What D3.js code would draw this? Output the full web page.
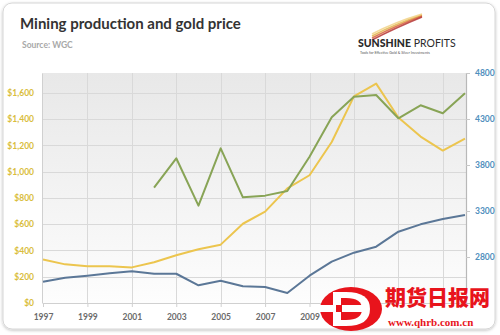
<!DOCTYPE html>
<html><head><meta charset="utf-8">
<script src="https://cdn.jsdelivr.net/npm/d3@7"></script>
<style>html,body{margin:0;padding:0;background:#fff;}svg{display:block;}</style>
</head><body>
<svg id="c" width="500" height="335"></svg>
<script>
const years = [1997,1998,1999,2000,2001,2002,2003,2004,2005,2006,2007,2008,2009,2010,2011,2012,2013,2014,2015,2016];
const goldPrice = [331,294,279,279,271,310,363,409,444,603,695,872,972,1225,1572,1669,1411,1266,1160,1251];
const mineProduction = [2532,2575,2597,2623,2645,2618,2618,2492,2542,2482,2474,2409,2597,2749,2847,2912,3075,3155,3213,3257];
const greenYears = [2002,2003,2004,2005,2006,2007,2008,2009,2010,2011,2012,2013,2014,2015,2016];
const greenSeries = [3553,3873,3358,3981,3449,3467,3517,3890,4318,4543,4561,4308,4449,4362,4579];
const leftTicks = [0,200,400,600,800,1000,1200,1400,1600];
const rightTicks = [2800,3300,3800,4300,4800];
const gridYears = [1999,2001,2003,2005,2007,2009,2011,2013,2015];
const yearLabels = [1997,1999,2001,2003,2005,2007,2009,2011];

const svg = d3.select("#c");
const defs = svg.append("defs");
const g1 = defs.append("linearGradient").attr("id","bg").attr("x1",0).attr("y1",0).attr("x2",0).attr("y2",1);
g1.append("stop").attr("offset","0%").attr("stop-color","#e8e8e8");
g1.append("stop").attr("offset","100%").attr("stop-color","#fdfdfd");
const f = defs.append("filter").attr("id","sh").attr("x","-5%").attr("y","-5%").attr("width","110%").attr("height","110%");
f.append("feDropShadow").attr("dx",0).attr("dy",1).attr("stdDeviation",1.5).attr("flood-color","#000").attr("flood-opacity",0.25);

// card
svg.append("rect").attr("x",3).attr("y",3).attr("width",492).attr("height",326).attr("rx",9)
  .attr("fill","#fff").attr("stroke","#d6d6d6").attr("stroke-width",1).attr("filter","url(#sh)");

const L=42,R=466,T=73,B=303;
const x = d3.scaleLinear().domain([1997,2016]).range([L+1,R-1]);
const yL = d3.scaleLinear().domain([0,1750]).range([B,T]);
const yR = d3.scaleLinear().domain([2300,4800]).range([B,T]);

svg.append("rect").attr("x",L).attr("y",T).attr("width",R-L).attr("height",B-T).attr("fill","url(#bg)");

// grid
const grid = svg.append("g").attr("stroke","#d9d9d9").attr("stroke-width",1);
leftTicks.slice(1).forEach(v=>grid.append("line").attr("x1",L).attr("x2",R).attr("y1",Math.round(yL(v))+0.5).attr("y2",Math.round(yL(v))+0.5));
gridYears.forEach(v=>grid.append("line").attr("y1",T).attr("y2",B).attr("x1",Math.round(x(v))+0.5).attr("x2",Math.round(x(v))+0.5));

// axes
const axL = d3.axisLeft(yL).tickValues(leftTicks).tickSize(0).tickPadding(8).tickFormat(d=>"$"+d3.format(",")(d));
const gL = svg.append("g").attr("transform",`translate(${L},0)`).call(axL);
gL.select(".domain").attr("stroke","#d0d0d0");
gL.selectAll("text").attr("fill","#d9bd3c").attr("font-family","Lato, sans-serif").attr("font-size",8.5).attr("font-weight","bold");

const axR = d3.axisRight(yR).tickValues(rightTicks).tickSize(4).tickPadding(5).tickFormat(d3.format("d"));
const gR = svg.append("g").attr("transform",`translate(${R},0)`).call(axR);
gR.select(".domain").attr("stroke","#b8b8b8").attr("stroke-width",1.2);
gR.selectAll(".tick line").attr("stroke","#c8c8c8");
gR.selectAll("text").attr("fill","#4f8fbd").attr("font-family","Lato, sans-serif").attr("font-size",8.5).attr("font-weight","bold");

const axB = d3.axisBottom(x).tickValues(yearLabels).tickSize(4).tickPadding(7).tickFormat(d3.format("d"));
const gB = svg.append("g").attr("transform",`translate(0,${B})`).call(axB);
gB.select(".domain").attr("stroke","#d0d0d0");
gB.selectAll(".tick line").attr("stroke","#d0d0d0");
gB.selectAll("text").attr("fill","#6b6b6b").attr("font-family","Lato, sans-serif").attr("font-size",8.5).attr("font-weight","bold");

// lines
const line = (ys)=>d3.line().x(d=>x(d[0])).y(d=>ys(d[1]));
svg.append("path").datum(years.map((yy,i)=>[yy,mineProduction[i]])).attr("d",line(yR))
  .attr("fill","none").attr("stroke","#5b7797").attr("stroke-width",2).attr("stroke-linejoin","round");
svg.append("path").datum(years.map((yy,i)=>[yy,goldPrice[i]])).attr("d",line(yL))
  .attr("fill","none").attr("stroke","#ecc54e").attr("stroke-width",2).attr("stroke-linejoin","round");
svg.append("path").datum(greenYears.map((yy,i)=>[yy,greenSeries[i]])).attr("d",line(yR))
  .attr("fill","none").attr("stroke","#88a456").attr("stroke-width",2).attr("stroke-linejoin","round");

// titles
svg.append("text").attr("x",20).attr("y",29).text("Mining production and gold price")
  .attr("font-family","Lato, sans-serif").attr("font-weight","bold").attr("font-size",15).attr("fill","#333");
svg.append("text").attr("x",22).attr("y",48).text("Source: WGC")
  .attr("font-family","Lato, sans-serif").attr("font-weight","bold").attr("font-size",8.5).attr("fill","#a8a8a8");

// logo
const logo = svg.append("g");
[["#e0b040",0],["#d45a30",2],["#b02828",4],["#f0d080",-2]].forEach(([c,o])=>{
  logo.append("path").attr("d",`M372,${36+o} Q395,${24+o} 422,${15+o/2}`).attr("fill","none").attr("stroke",c).attr("stroke-width",1.5).attr("opacity",0.8);
});
logo.append("text").attr("x",358).attr("y",47).text("SUNSHINE").attr("font-family","Lato, sans-serif").attr("font-weight","900").attr("font-size",10.5).attr("fill","#2a2a2a")
  .append("tspan").text(" PROFITS").attr("font-weight","normal");
logo.append("text").attr("x",360).attr("y",54).text("Tools for Effective Gold & Silver Investments").attr("font-family","Lato, sans-serif").attr("font-size",3.6).attr("fill","#555");

// watermark
const wm = svg.append("g");
wm.append("ellipse").attr("cx",351).attr("cy",309).attr("rx",31).attr("ry",22).attr("fill","#e8141c");
wm.append("path").attr("d","M333,292 L346,292 Q370,292 370,309 Q370,326 346,326 L333,326 Z").attr("fill","#fff");
wm.append("path").attr("d","M341,298 L346,298 Q362,298 362,309 Q362,320 346,320 L341,320 Z").attr("fill","#e8141c");
wm.append("rect").attr("x",320).attr("y",305).attr("width",48).attr("height",7).attr("fill","#fff");
wm.append("rect").attr("x",336).attr("y",305).attr("width",6).attr("height",7).attr("fill","#e8141c");
wm.append("text").attr("x",385).attr("y",305).text("期货日报网").attr("font-family","'Noto Sans CJK SC', sans-serif").attr("font-weight","900").attr("font-size",21).attr("fill","#e8141c");
wm.append("text").attr("x",388).attr("y",326).text("www.qhrb.com.cn").attr("font-family","'Liberation Serif', serif").attr("font-weight","bold").attr("font-size",11).attr("fill","#e8141c");
</script>
</body></html>
